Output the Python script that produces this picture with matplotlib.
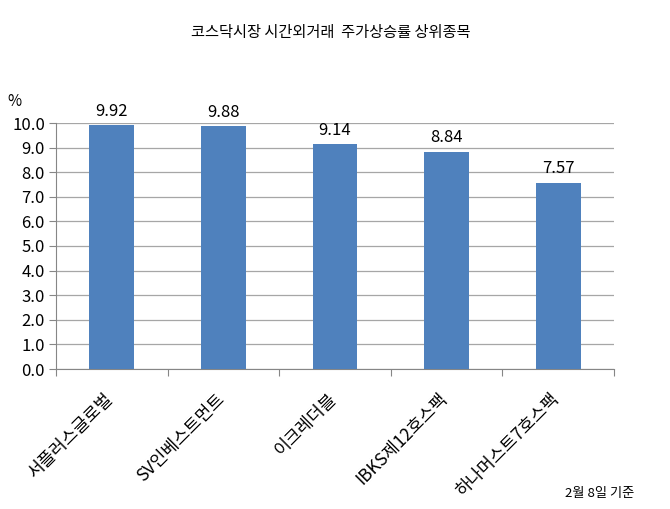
import matplotlib.pyplot as plt
import numpy as np

plt.rcParams['font.family'] = ['Noto Sans CJK KR', 'DejaVu Sans']

names = ['서플러스글로벌', 'SV인베스트먼트', '이크레더블', 'IBKS제12호스팩', '하나머스트7호스팩']
rates = [9.92, 9.88, 9.14, 8.84, 7.57]
yticks = np.arange(0, 10.5, 1.0)

fig = plt.figure(figsize=(6.7, 5.09), dpi=100)
ax = fig.add_axes([56/670, 1 - 369/509, (614-56)/670, (369-123)/509])

x = np.arange(len(names))
ax.bar(x, rates, width=0.4, color='#4F81BD', zorder=3)
for xi, v in zip(x, rates):
    ax.text(xi, v + 0.22, f'{v:.2f}', ha='center', va='bottom', fontsize=12)

ax.set_xlim(-0.5, len(names) - 0.5)
ax.set_ylim(0, 10)
ax.set_yticks(yticks)
ax.set_yticklabels([f'{t:.1f}' for t in yticks], fontsize=12)
ax.yaxis.grid(True, color='#a6a6a6', lw=0.9, zorder=0)
ax.set_axisbelow(True)

ax.set_xticks(np.arange(len(names) + 1) - 0.5, minor=False)
ax.set_xticklabels([])
ax.tick_params(axis='x', length=5, color='#868686', direction='out')
ax.tick_params(axis='y', length=5, color='#868686', direction='out', pad=3)
for xi, n in zip(x, names):
    ax.text(xi - 0.07, -0.85, n, rotation=45, ha='right', va='top',
            rotation_mode='anchor', fontsize=12.5, transform=ax.transData)

for s in ['top', 'right']:
    ax.spines[s].set_visible(False)
for s in ['left', 'bottom']:
    ax.spines[s].set_color('#868686')

fig.text(331/670, 1 - 32/509, '코스닥시장 시간외거래  주가상승률 상위종목',
         ha='center', va='center', fontsize=11)
fig.text(14/670, 1 - 101/509, '%', ha='center', va='center', fontsize=11)
fig.text(600/670, 1 - 494/509, '2월 8일 기준', ha='center', va='center', fontsize=9.5)

fig.savefig('out.png', dpi=100)
